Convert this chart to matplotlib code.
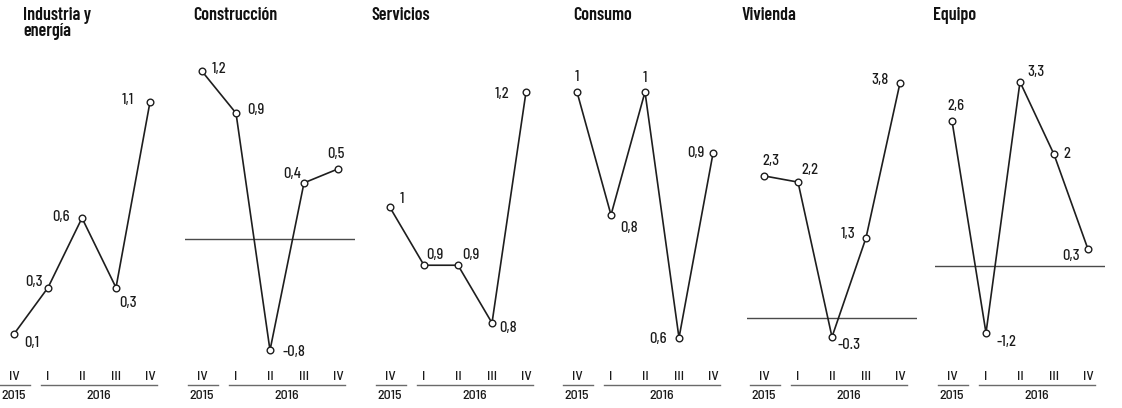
import matplotlib
matplotlib.use("Agg")
import matplotlib.pyplot as plt
from matplotlib.lines import Line2D

TITLE_FONTS = ['Barlow Condensed', 'Liberation Sans Narrow', 'DejaVu Sans']
LABEL_FONTS = ['Barlow Semi Condensed', 'Liberation Sans Narrow', 'DejaVu Sans']
plt.rcParams['font.family'] = LABEL_FONTS

# ---- data ----
titles = ["Industria y\nenergía", "Construcción", "Servicios", "Consumo", "Vivienda", "Equipo"]
quarters = ["IV", "I", "II", "III", "IV"]
years = ["2015", "2016"]

industria = [0.1, 0.3, 0.6, 0.3, 1.1]
construccion = [1.2, 0.9, -0.8, 0.4, 0.5]
servicios = [1.0, 0.9, 0.9, 0.8, 1.2]
consumo = [1.0, 0.8, 1.0, 0.6, 0.9]
vivienda = [2.3, 2.2, -0.3, 1.3, 3.8]
equipo = [2.6, -1.2, 3.3, 2.0, 0.3]

series = [industria, construccion, servicios, consumo, vivienda, equipo]
value_labels = [
    ["0,1", "0,3", "0,6", "0,3", "1,1"],
    ["1,2", "0,9", "-0,8", "0,4", "0,5"],
    ["1", "0,9", "0,9", "0,8", "1,2"],
    ["1", "0,8", "1", "0,6", "0,9"],
    ["2,3", "2,2", "-0.3", "1,3", "3,8"],
    ["2,6", "-1,2", "3,3", "2", "0,3"],
]

# ---- layout (pixels) ----
W, H = 1122, 408
first_px = [14, 202, 390, 577, 764, 952]
ax_top, ax_bot = 60, 360
ylims = [(-0.012, 1.281), (-0.870, 1.281), (0.7359, 1.2554),
         (0.564, 1.052), (-0.672, 4.171), (-1.685, 3.692)]
zero_line = [False, True, False, False, True, True]
title_dx = [9, -9, -19, -4, -22, -19]
# label offsets in pixels (dx right, dy down)
offsets = [
    [(18, 9), (-14, -6), (-21, -1), (12, 15), (-22, -2)],
    [(17, -2), (20, -3), (24, 2), (-12, -9), (-2, -15)],
    [(12, -8), (11, -10), (13, -10), (16, 5), (-24, 2)],
    [(0, -15), (18, 13), (0, -14), (-21, 1), (-17, 0)],
    [(7, -15), (12, -12), (17, 8), (-18, -4), (-20, -3)],
    [(4, -15), (20, 9), (16, -10), (13, 0), (-17, 7)],
]

fig = plt.figure(figsize=(W / 100, H / 100), dpi=100)
fig.patch.set_facecolor("white")

ax_h = ax_bot - ax_top
for i in range(6):
    left = (first_px[i] - 17) / W
    ax = fig.add_axes([left, (H - ax_bot) / H, 170 / W, ax_h / H])
    ax.set_xlim(-0.5, 4.5)
    ax.set_ylim(*ylims[i])
    ax.axis("off")
    xs = list(range(len(series[i])))
    if zero_line[i]:
        ax.axhline(0, color="#4a4a4a", lw=1.0, zorder=1)
    ax.plot(xs, series[i], color="#1e1e1e", lw=1.2, marker="o", ms=4.8,
            mfc="white", mec="#1e1e1e", mew=1.0, zorder=3, clip_on=False)
    for x, v, lab, (dx, dy) in zip(xs, series[i], value_labels[i], offsets[i]):
        ax.annotate(lab, (x, v), xytext=(dx * 0.72, -dy * 0.72),
                    textcoords="offset points", ha="center", va="center",
                    fontsize=10.5, fontweight="medium", color="#1a1a1a",
                    annotation_clip=False)
    tr = ax.get_xaxis_transform()

    def fy(px):
        return (ax_bot - px) / ax_h

    for x, q in zip(xs, quarters):
        ax.text(x, fy(380.5), q, transform=tr, ha="center", va="baseline",
                fontsize=10, fontweight="medium", color="#1a1a1a", clip_on=False)
    ax.add_line(Line2D([-0.41, 0.47], [fy(385), fy(385)], transform=tr,
                       color="#6a6a6a", lw=1.0, clip_on=False))
    ax.add_line(Line2D([0.8, 4.22], [fy(385), fy(385)], transform=tr,
                       color="#6a6a6a", lw=1.0, clip_on=False))
    ax.text(0, fy(399), years[0], transform=tr, ha="center", va="baseline",
            fontsize=10, fontweight="medium", color="#1a1a1a", clip_on=False)
    ax.text(2.5, fy(399), years[1], transform=tr, ha="center", va="baseline",
            fontsize=10, fontweight="medium", color="#1a1a1a", clip_on=False)
    fig.text((first_px[i] + title_dx[i]) / W, 1 - 7 / H, titles[i],
             ha="left", va="top", fontsize=13, fontweight="semibold",
             family=TITLE_FONTS, color="#111111", linespacing=0.9)

fig.savefig("out.png", dpi=100, facecolor="white")
